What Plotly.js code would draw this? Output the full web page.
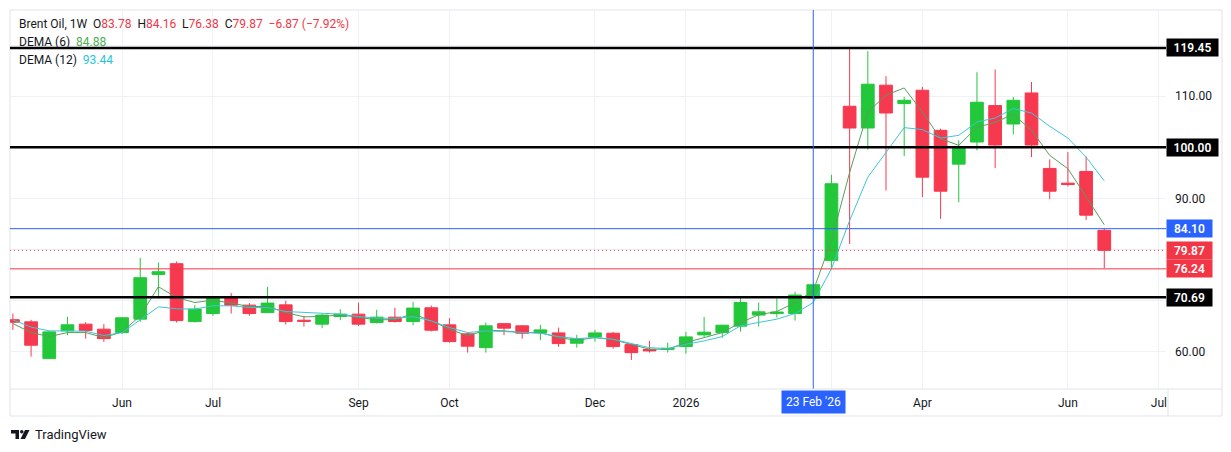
<!DOCTYPE html>
<html>
<head>
<meta charset="utf-8">
<script src="https://cdn.plot.ly/plotly-3.0.1.min.js"></script>
<style>
html,body{margin:0;padding:0;background:#ffffff;}
#chart{width:1231px;height:452px;}
</style>
</head>
<body>
<div id="chart"></div>
<script>
// ---------- DATA ----------
const weeks = [
 "2025-04-21","2025-04-28","2025-05-05","2025-05-12","2025-05-19","2025-05-26",
 "2025-06-02","2025-06-09","2025-06-16","2025-06-23","2025-06-30",
 "2025-07-07","2025-07-14","2025-07-21","2025-07-28",
 "2025-08-04","2025-08-11","2025-08-18","2025-08-25",
 "2025-09-01","2025-09-08","2025-09-15","2025-09-22","2025-09-29",
 "2025-10-06","2025-10-13","2025-10-20","2025-10-27",
 "2025-11-03","2025-11-10","2025-11-17","2025-11-24",
 "2025-12-01","2025-12-08","2025-12-15","2025-12-22","2025-12-29",
 "2026-01-05","2026-01-12","2026-01-19","2026-01-26",
 "2026-02-02","2026-02-09","2026-02-16","2026-02-23",
 "2026-03-02","2026-03-09","2026-03-16","2026-03-23","2026-03-30",
 "2026-04-06","2026-04-13","2026-04-20","2026-04-27",
 "2026-05-04","2026-05-11","2026-05-18","2026-05-25",
 "2026-06-01","2026-06-08","2026-06-15"
];
const openP = [66.30,65.88,58.69,64.12,65.43,64.45,63.78,66.41,75.15,77.25,65.94,
 67.51,70.58,69.15,67.70,69.20,66.20,65.43,66.92,67.39,65.74,66.80,65.94,68.63,
 65.29,63.53,60.84,65.53,65.10,63.72,63.72,61.70,62.94,63.66,61.43,60.50,60.50,
 61.04,63.33,63.78,65.04,67.20,67.50,67.51,70.53,77.90,108.04,103.78,112.16,108.56,
 111.17,103.33,96.72,101.04,108.17,104.57,110.64,95.88,93.00,95.29,83.78];
const highP = [67.50,66.27,64.12,66.86,65.82,65.43,66.80,78.37,77.50,77.70,69.15,
 70.64,71.50,69.55,72.74,70.00,67.06,67.39,68.37,69.66,68.23,68.63,69.80,69.07,
 66.60,63.78,65.74,65.62,65.23,65.29,64.76,63.33,64.31,63.92,61.63,62.16,61.82,
 63.92,66.86,65.30,70.53,69.66,70.45,71.76,73.39,94.64,119.45,118.82,113.92,109.86,
 111.82,103.67,101.37,114.70,115.23,109.86,112.80,97.65,99.08,98.23,84.16];
const lowP = [64.30,59.08,58.60,63.27,62.60,61.96,63.50,65.88,70.40,65.74,65.74,
 67.06,67.50,67.06,67.60,65.35,64.96,64.65,66.21,65.10,65.55,65.74,65.23,63.98,
 61.82,59.86,59.86,63.27,62.60,62.29,60.98,60.84,62.02,60.64,58.43,59.86,59.86,
 59.66,62.80,62.80,63.98,64.96,66.73,66.13,70.33,76.33,81.11,99.55,91.57,98.29,
 90.25,86.02,89.27,99.41,95.94,102.55,98.10,89.86,92.35,85.82,76.38];
const closeP = [65.80,61.31,63.92,65.30,64.17,62.60,66.67,74.51,75.68,66.13,68.37,
 70.53,69.15,67.51,69.55,65.94,66.00,67.20,67.39,65.43,66.80,65.94,68.57,64.25,
 62.02,61.12,65.10,64.65,63.66,64.31,61.63,62.60,63.72,61.04,59.86,60.20,60.70,
 62.94,63.86,65.23,69.66,67.84,67.80,71.12,73.13,92.88,103.78,112.35,106.72,109.20,
 94.17,91.43,99.86,108.82,100.45,109.20,100.45,91.43,92.75,86.74,79.87];
const dema6 = [65.55,63.78,63.00,63.78,63.78,62.80,63.92,67.06,72.74,70.64,69.66,
 70.13,69.55,68.88,68.88,67.70,66.86,66.92,67.25,66.72,66.27,66.33,67.45,66.08,
 64.45,63.14,64.25,64.12,63.78,63.78,62.80,62.29,62.80,62.39,61.50,60.53,60.53,
 61.82,62.80,63.78,65.74,67.25,67.90,69.66,71.96,81.76,95.10,106.92,110.20,111.62,
 106.92,101.70,100.39,103.92,104.90,106.47,103.33,98.43,95.82,90.25,84.88];
const dema12 = [66.27,64.84,64.12,64.12,64.06,63.20,63.78,66.27,68.82,68.43,68.37,
 69.02,69.02,68.68,68.68,67.90,67.70,67.51,67.39,66.92,66.60,66.57,66.90,66.08,
 64.76,63.78,64.12,63.98,63.78,63.66,63.00,62.60,62.80,62.49,61.63,60.84,60.64,
 61.50,62.16,63.00,65.10,65.74,66.41,67.51,69.66,76.27,85.68,94.17,99.08,103.86,
 103.47,101.82,102.35,104.96,105.74,107.58,106.72,104.12,101.82,98.09,93.44];

const tickDates = ["2025-06-02","2025-07-07","2025-09-01","2025-10-06","2025-12-01",
 "2026-01-05","2026-03-02","2026-04-06","2026-06-01","2026-07-06"];
const tickLabels = ["Jun","Jul","Sep","Oct","Dec","2026","","Apr","Jun","Jul"];
const priceTicks = [60,70,80,90,100,110,120];
const priceTickLabels = ["60.00","","","90.00","","110.00",""];

const levelsBlack = [119.45, 100.00, 70.69];
const levelBlue = 84.10;
const levelRed = 76.24;
const lastPrice = 79.87;
const markerDate = "2026-02-23";
const markerLabel = "23 Feb '26";

// ---------- STYLE ----------
const UP = "#22c83a", DN = "#f6394e", BLUE = "#2962ff", REDL = "#f23645";
const G6 = "#4caf50", C12 = "#26c6da", TXT = "#131722", GRID = "#eef1f6", FRAME = "#e0e3eb";
const FONT = "Roboto, 'Open Sans', sans-serif";

const W = 1231, H = 452, L = 10, R = 1166, T = 10, B = 389;
const px = v => (v - L) / (R - L);
const py = v => (B - v) / (B - T);

const traces = [
 {type:"candlestick", x:weeks, open:openP, high:highP, low:lowP, close:closeP,
  increasing:{line:{color:UP,width:1}, fillcolor:UP},
  decreasing:{line:{color:DN,width:1}, fillcolor:DN},
  whiskerwidth:0, hoverinfo:"skip", showlegend:false},
 {type:"scatter", mode:"lines", x:weeks, y:dema6, line:{color:"#5a9e5d",width:1}, hoverinfo:"skip", showlegend:false},
 {type:"scatter", mode:"lines", x:weeks, y:dema12, line:{color:"#3cc6d6",width:1}, hoverinfo:"skip", showlegend:false}
];

const shapes = [];
levelsBlack.forEach(v => shapes.push({type:"line", xref:"paper", x0:0, x1:1, yref:"y", y0:v, y1:v, line:{color:"#000000", width:2.5}}));
shapes.push({type:"line", xref:"paper", x0:0, x1:1, yref:"y", y0:levelBlue, y1:levelBlue, line:{color:BLUE, width:1}});
shapes.push({type:"line", xref:"paper", x0:0, x1:1, yref:"y", y0:levelRed, y1:levelRed, line:{color:REDL, width:1}});
shapes.push({type:"line", xref:"paper", x0:0, x1:1, yref:"y", y0:lastPrice, y1:lastPrice, line:{color:REDL, width:1, dash:"1px,3px"}});
shapes.push({type:"line", xref:"x", x0:markerDate, x1:markerDate, yref:"paper", y0:0, y1:1, line:{color:BLUE, width:1}});
// frame
shapes.push({type:"rect", xref:"paper", yref:"paper", x0:px(10), x1:px(1222), y0:py(416), y1:py(10), line:{color:FRAME, width:1}, layer:"below"});
shapes.push({type:"line", xref:"paper", yref:"paper", x0:px(10), x1:px(1222), y0:0, y1:0, line:{color:FRAME, width:1}});
shapes.push({type:"line", xref:"paper", yref:"paper", x0:px(1168), x1:px(1168), y0:0, y1:py(416), line:{color:FRAME, width:1}});
// TradingView logo
shapes.push({type:"path", xref:"paper", yref:"paper", fillcolor:TXT, line:{width:0},
  path:`M${px(11)},${py(430)} L${px(19)},${py(430)} L${px(19)},${py(439)} L${px(15.5)},${py(439)} L${px(15.5)},${py(433.5)} L${px(11)},${py(433.5)} Z`});
shapes.push({type:"circle", xref:"paper", yref:"paper", fillcolor:TXT, line:{width:0},
  x0:px(20), x1:px(23.5), y0:py(433.5), y1:py(430)});
shapes.push({type:"path", xref:"paper", yref:"paper", fillcolor:TXT, line:{width:0},
  path:`M${px(25)},${py(430)} L${px(29.5)},${py(430)} L${px(25)},${py(439)} L${px(20.5)},${py(439)} Z`});

const sp = "\u00a0";
const red = t => `<span style="color:${REDL}">${t}</span>`;
const annotations = [
 {xref:"paper", yref:"paper", x:px(17), y:py(23.5), xanchor:"left", yanchor:"middle", showarrow:false,
  font:{family:FONT, size:12, color:TXT},
  text:`Brent Oil, 1W${sp}${sp}O${red(openP[60].toFixed(2))}${sp}${sp}H${red(highP[60].toFixed(2))}${sp}${sp}L${red(lowP[60].toFixed(2))}${sp}${sp}C${red(closeP[60].toFixed(2))}${sp}${sp}${red("\u22126.87 (\u22127.92%)")}`},
 {xref:"paper", yref:"paper", x:px(17), y:py(41.5), xanchor:"left", yanchor:"middle", showarrow:false,
  font:{family:FONT, size:12, color:TXT},
  text:`DEMA (6)${sp}${sp}<span style="color:${G6}">${dema6[60].toFixed(2)}</span>`},
 {xref:"paper", yref:"paper", x:px(17), y:py(59.5), xanchor:"left", yanchor:"middle", showarrow:false,
  font:{family:FONT, size:12, color:TXT},
  text:`DEMA (12)${sp}${sp}<span style="color:${C12}">${dema12[60].toFixed(2)}</span>`},
 {xref:"x", yref:"paper", x:markerDate, y:0, yanchor:"top", xanchor:"center", yshift:-1, showarrow:false,
  bgcolor:BLUE, borderpad:4, font:{family:FONT, size:12, color:"#ffffff"}, text:markerLabel},
 {xref:"paper", yref:"paper", x:px(33), y:py(434.5), xanchor:"left", yanchor:"middle", showarrow:false,
  font:{family:FONT, size:13, color:TXT}, text:"TradingView"}
];
function priceBox(v, color){
  const t = v.toFixed(2);
  annotations.push({xref:"paper", yref:"y", x:1, y:v, xanchor:"left", yanchor:"middle", showarrow:false,
    bgcolor:color, borderpad:3, width: t.length === 6 ? 45 : 39, height:11, align:"center",
    font:{family:FONT, size:12, color:"#ffffff", weight:600}, text:t});
}
levelsBlack.forEach(v => priceBox(v, "#000000"));
priceBox(levelBlue, BLUE);
priceBox(lastPrice, REDL);
priceBox(levelRed, REDL);

const layout = {
  width:W, height:H,
  margin:{l:L, r:W-R, t:T, b:H-B},
  paper_bgcolor:"#ffffff", plot_bgcolor:"#ffffff",
  font:{family:FONT, size:12, color:TXT},
  showlegend:false,
  boxgap:0.3, boxgroupgap:0,
  xaxis:{type:"date", range:["2025-04-19 21:13","2026-07-08 18:00"],
    tickmode:"array", tickvals:tickDates, ticktext:tickLabels,
    showgrid:true, gridcolor:GRID, gridwidth:1, zeroline:false, showline:false, ticks:"",
    tickfont:{family:FONT, size:12, color:TXT}, ticklabelstandoff:5,
    rangeslider:{visible:false}, fixedrange:true},
  yaxis:{side:"right", range:[52.75,126.86], tickmode:"array", tickvals:priceTicks, ticktext:priceTickLabels,
    showgrid:true, gridcolor:GRID, gridwidth:1, zeroline:false, showline:false, ticks:"",
    tickfont:{family:FONT, size:12, color:TXT}, ticklabelstandoff:8, fixedrange:true},
  shapes:shapes,
  annotations:annotations
};

Plotly.newPlot("chart", traces, layout, {displayModeBar:false, staticPlot:true});
</script>
</body>
</html>
